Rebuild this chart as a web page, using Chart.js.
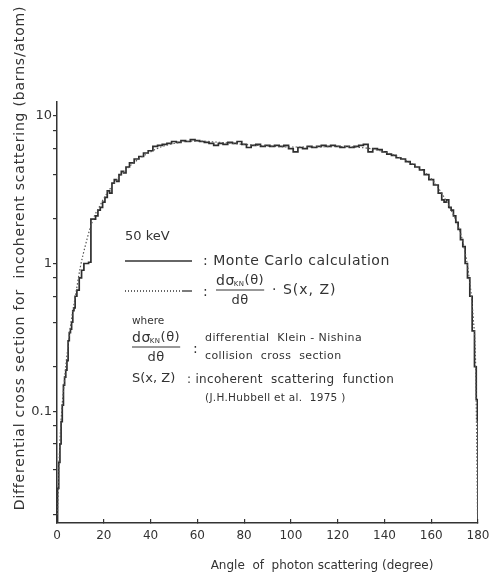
<!DOCTYPE html>
<html>
<head>
<meta charset="utf-8">
<script src="https://cdn.jsdelivr.net/npm/chart.js@4.4.1/dist/chart.umd.min.js"></script>
<style>
html, body { margin: 0; padding: 0; background: #fff; }
</style>
</head>
<body>
<canvas id="chart" width="492" height="575"></canvas>
<script>
// Monte Carlo result (histogram, degrees / barns per atom)
const mcAngle = [0, 0.5, 1, 1.5, 2, 2.5, 3, 3.5, 4, 4.5, 5, 5.5, 6, 6.5, 7, 7.5, 8, 9, 10, 11, 12, 13, 14,
	15, 16, 17, 18, 19, 20, 21, 22, 23, 24, 25, 26, 27, 28, 29, 30, 32, 34, 36, 38, 40, 42, 44, 46, 48,
	50, 52, 54, 56, 58, 60, 62, 64, 66, 68, 70, 72, 74, 76, 78, 80, 82, 84, 86, 88, 90, 92, 94, 96, 98,
	100, 102, 104, 106, 108, 110, 112, 114, 116, 118, 120, 122, 124, 126, 128, 130, 132, 134, 136, 138,
	140, 142, 144, 146, 148, 150, 152, 154, 156, 158, 160, 162, 164, 165, 166, 167, 168, 169, 170, 171,
	172, 173, 174, 175, 176, 177, 178, 179, 179.5, 180, 180];
const mcValue = [0.018, 0.03, 0.045, 0.06, 0.085, 0.11, 0.15, 0.17, 0.19, 0.22, 0.3, 0.34, 0.36, 0.4, 0.48, 0.5, 0.6, 0.66, 0.8, 0.9, 1.0, 1.0, 1.02,
	2.0, 2.0, 2.1, 2.3, 2.4, 2.6, 2.8, 3.1, 3.0, 3.5, 3.7, 3.6, 4.0, 4.2, 4.1, 4.5, 4.8, 5.1, 5.3, 5.6, 5.8, 6.2, 6.3, 6.4, 6.5,
	6.7, 6.6, 6.8, 6.7, 6.9, 6.8, 6.7, 6.6, 6.5, 6.3, 6.5, 6.4, 6.6, 6.5, 6.7, 6.4, 6.1, 6.3, 6.4, 6.2, 6.3, 6.2, 6.3, 6.2, 6.3,
	6.0, 5.7, 6.1, 6.0, 6.2, 6.1, 6.2, 6.3, 6.2, 6.3, 6.2, 6.1, 6.2, 6.1, 6.2, 6.3, 6.4, 5.7, 6.0, 5.9,
	5.7, 5.5, 5.4, 5.2, 5.1, 4.9, 4.7, 4.5, 4.3, 4.0, 3.7, 3.4, 3.0, 2.7, 2.6, 2.7, 2.4, 2.3, 2.1, 1.9,
	1.7, 1.45, 1.3, 1.0, 0.8, 0.6, 0.35, 0.2, 0.12, 0.087, 0.018];

// Klein-Nishina x S(x,Z) (dotted)
const knAngle = [0.2, 1, 2, 3, 4, 5, 6, 8, 10, 12, 14, 16, 18, 20, 25, 30, 35, 40, 45, 50, 55, 60, 70, 80, 90,
	100, 110, 120, 130, 135, 140, 145, 150, 155, 160, 165, 170, 172, 174, 176, 178, 179, 179.8];
const knValue = [0.02, 0.05, 0.1, 0.15, 0.22, 0.3, 0.4, 0.62, 0.95, 1.3, 1.7, 2.1, 2.4, 2.75, 3.6, 4.4, 5.1, 5.7, 6.2, 6.5, 6.7, 6.75, 6.6, 6.4, 6.25,
	6.15, 6.15, 6.2, 6.1, 5.95, 5.7, 5.35, 4.9, 4.4, 3.75, 2.9, 2.05, 1.7, 1.3, 0.85, 0.42, 0.2, 0.02];

const xTicks = [0, 20, 40, 60, 80, 100, 120, 140, 160, 180];
const yTicks = [0.02, 0.04, 0.06, 0.08, 0.1, 0.2, 0.4, 0.6, 0.8, 1, 2, 4, 6, 8, 10];
const yLabels = { 0.1: '0.1', 1: '1', 10: '10' };

const xTitle = 'Angle  of  photon scattering (degree)';
const yTitle = 'Differential cross section for  incoherent scattering (barns/atom)';

const ink = '#333333';
const font = '"DejaVu Sans"';

/* text block, legend samples and axis titles */
const notes = {
	id: 'notes',
	afterDraw(chart) {
		const c = chart.ctx;
		c.save();
		c.fillStyle = ink;
		c.strokeStyle = ink;
		c.textBaseline = 'middle';

		// axis titles
		c.textAlign = 'center';
		c.font = '14px ' + font;
		c.letterSpacing = '0.8px';
		c.save();
		c.translate(20, 258);
		c.rotate(-Math.PI / 2);
		c.fillText(yTitle, 0, 0);
		c.restore();
		c.letterSpacing = '0px';
		c.font = '12px ' + font;
		c.fillText(xTitle, 322, 566);

		c.textAlign = 'left';
		c.font = '13px ' + font;
		c.fillText('50 keV', 125, 237);

		// solid sample
		c.lineWidth = 1.3;
		c.beginPath(); c.moveTo(125, 261); c.lineTo(192, 261); c.stroke();
		c.font = '14px ' + font;
		c.letterSpacing = '0.5px';
		c.fillText(': Monte Carlo calculation', 203, 261);

		// dotted sample
		c.setLineDash([1, 2]);
		c.beginPath(); c.moveTo(125, 291); c.lineTo(182, 291); c.stroke();
		c.setLineDash([]);
		c.beginPath(); c.moveTo(182, 291); c.lineTo(192, 291); c.stroke();
		c.fillText(':', 203, 292);
		fraction(c, 216, 290);
		c.font = '14px ' + font;
		c.letterSpacing = '1px';
		c.fillText('\u00b7 S(x, Z)', 272, 290);
		c.letterSpacing = '0px';

		c.font = '10.5px ' + font;
		c.fillText('where', 132, 321);
		fraction(c, 132, 347);
		c.font = '14px ' + font;
		c.fillText(':', 193, 349);
		c.font = '11px ' + font;
		c.letterSpacing = '0.4px';
		c.fillText('differential  Klein - Nishina', 205, 338);
		c.fillText('collision  cross  section', 205, 356);

		c.font = '13px ' + font;
		c.letterSpacing = '0px';
		c.fillText('S(x, Z)', 132, 379);
		c.font = '12px ' + font;
		c.letterSpacing = '0.3px';
		c.fillText(': incoherent  scattering  function', 187, 380);
		c.font = '10.5px ' + font;
		c.fillText('(J.H.Hubbell et al.  1975 )', 205, 398);
		c.restore();
	}
};

function fraction(c, x, y) {
	const ls = c.letterSpacing;
	c.letterSpacing = '0.5px';
	c.font = '14px ' + font;
	c.fillText('d\u03c3', x, y - 9);
	let w = c.measureText('d\u03c3').width;
	c.font = '7px ' + font;
	c.fillText('KN', x + w - 1, y - 6);
	w += c.measureText('KN').width - 1;
	c.font = '13px ' + font;
	c.fillText('(\u03b8)', x + w, y - 9);
	w += c.measureText('(\u03b8)').width;
	c.lineWidth = 1;
	c.beginPath(); c.moveTo(x, y); c.lineTo(x + w, y); c.stroke();
	c.textAlign = 'center';
	c.fillText('d\u03b8', x + w / 2, y + 11);
	c.textAlign = 'left';
	c.letterSpacing = ls;
}

const ctx = document.getElementById('chart');

const chart = new Chart(ctx, {
	type: 'scatter',
	data: {
		datasets: [
			{
				label: 'KN x S(x,Z)',
				data: knAngle.map((a, i) => ({ x: a, y: knValue[i] })),
				showLine: true,
				borderColor: '#555555',
				borderWidth: 1.2,
				borderDash: [1.5, 2],
				cubicInterpolationMode: 'monotone',
				pointRadius: 0
			},
			{
				label: 'Monte Carlo calculation',
				data: mcAngle.map((a, i) => ({ x: a, y: mcValue[i] })),
				showLine: true,
				stepped: 'middle',
				borderColor: '#2e2e2e',
				borderWidth: 1.7,
				pointRadius: 0
			}
		]
	},
	options: {
		responsive: false,
		animation: false,
		layout: { padding: { left: 0, right: 14, top: 102, bottom: 0 } },
		scales: {
			x: {
				type: 'linear',
				min: 0,
				max: 180,
				afterFit: (s) => { s.height = 52; s.paddingLeft = 0; s.paddingRight = 0; },
				afterBuildTicks: (s) => { s.ticks = xTicks.map(v => ({ value: v })); },
				grid: { drawOnChartArea: false, tickLength: -4, color: ink, lineWidth: 1.2 },
				border: { color: ink, width: 1.5 },
				ticks: { color: ink, font: { family: font, size: 12 }, padding: 10, maxRotation: 0 }
			},
			y: {
				type: 'logarithmic',
				min: 0.0175,
				max: 12.4,
				afterFit: (s) => { s.width = 57; s.paddingTop = 0; s.paddingBottom = 0; },
				afterBuildTicks: (s) => { s.ticks = yTicks.map(v => ({ value: v })); },
				grid: { drawOnChartArea: false, tickLength: 4, color: ink, lineWidth: 1.2 },
				border: { color: ink, width: 1.5 },
				ticks: {
					color: ink,
					autoSkip: false,
					padding: 1,
					font: { family: font, size: 13 },
					callback: (v) => yLabels[v] || ''
				}
			}
		},
		plugins: {
			legend: { display: false },
			tooltip: { enabled: false }
		}
	},
	plugins: [notes]
});
</script>
</body>
</html>
